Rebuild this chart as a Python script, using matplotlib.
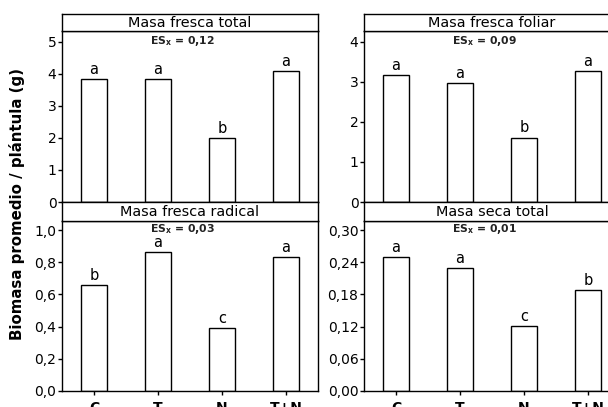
import numpy as np
import matplotlib
matplotlib.use("Agg")
import matplotlib.pyplot as plt
from matplotlib.ticker import FuncFormatter

# --------------------------------------------------
# Data
# --------------------------------------------------

treatments = ["C", "T", "N", "T+N"]

titles = ["Masa fresca total", "Masa fresca foliar",
          "Masa fresca radical", "Masa seca total"]

fresh_total = [3.84, 3.84, 2.01, 4.10]
fresh_leaf = [3.16, 2.98, 1.61, 3.26]
fresh_root = [0.658, 0.861, 0.389, 0.830]
dry_total = [0.249, 0.229, 0.121, 0.188]

letters_total = ["a", "a", "b", "a"]
letters_leaf = ["a", "a", "b", "a"]
letters_root = ["b", "a", "c", "a"]
letters_dry = ["a", "a", "c", "b"]

es_values = ["0,12", "0,09", "0,03", "0,01"]

y_ticks = [np.arange(0, 6, 1), np.arange(0, 5, 1),
           np.arange(0, 1.01, 0.2), np.arange(0, 0.301, 0.06)]
y_limits = [5.34, 4.27, 1.056, 0.317]
y_decimals = [0, 0, 1, 2]

# --------------------------------------------------
# Layout (figure coordinates)
# --------------------------------------------------

W, H = 608, 407
fig = plt.figure(figsize=(W / 100, H / 100), dpi=100)

def fx(px):
    return px / W

def fy(px):
    return 1 - px / H

col_x = [62, 364]
col_w = 256
rows = [(31, 202, 14), (221, 391, 202)]  # (axes top, axes bottom, strip top)

values = [fresh_total, fresh_leaf, fresh_root, dry_total]
letters = [letters_total, letters_leaf, letters_root, letters_dry]

x = np.arange(len(treatments))

for i in range(4):
    r, c = divmod(i, 2)
    top, bottom, strip_top = rows[r]

    ax = fig.add_axes([fx(col_x[c]), fy(bottom), fx(col_w), fy(top) - fy(bottom)])
    strip = fig.add_axes([fx(col_x[c]), fy(top), fx(col_w), fy(strip_top) - fy(top)])

    ax.bar(x, values[i], width=0.4, color="white", edgecolor="black", linewidth=1.0)

    for xi, v, lab in zip(x, values[i], letters[i]):
        ax.annotate(lab, (xi, v), xytext=(0, 1.5), textcoords="offset points",
                    ha="center", va="bottom", fontsize=10.5)

    ax.text(1.38, 0.94 if r == 0 else 0.952, "ES$_\\mathregular{x}$ = " + es_values[i],
            transform=ax.get_xaxis_transform(), ha="center", va="center",
            fontsize=7.8, fontweight="bold", color="#222222")

    ax.set_xlim(-0.5, 3.5)
    ax.set_ylim(0, y_limits[i])
    ax.set_yticks(y_ticks[i])
    d = y_decimals[i]
    ax.yaxis.set_major_formatter(FuncFormatter(
        lambda val, pos, d=d: f"{val:.{d}f}".replace(".", ",")))
    ax.tick_params(axis="y", length=3, width=1, labelsize=10, pad=1)

    ax.set_xticks(x)
    if r == 1:
        ax.set_xticklabels(treatments, fontweight="bold", fontsize=10)
        ax.tick_params(axis="x", length=3, width=1, pad=4)
    else:
        ax.set_xticklabels([])
        ax.tick_params(axis="x", length=0)

    for s in ax.spines.values():
        s.set_linewidth(1.0)

    strip.set_xticks([])
    strip.set_yticks([])
    for s in strip.spines.values():
        s.set_linewidth(1.0)
    strip.text(0.5, 0.45, titles[i], transform=strip.transAxes,
               ha="center", va="center", fontsize=10.4)

fig.text(fx(17), fy(204), "Biomasa promedio / plántula (g)", rotation=90,
         ha="center", va="center", fontsize=10.8, fontweight="bold")

fig.savefig("out.png", dpi=100)
